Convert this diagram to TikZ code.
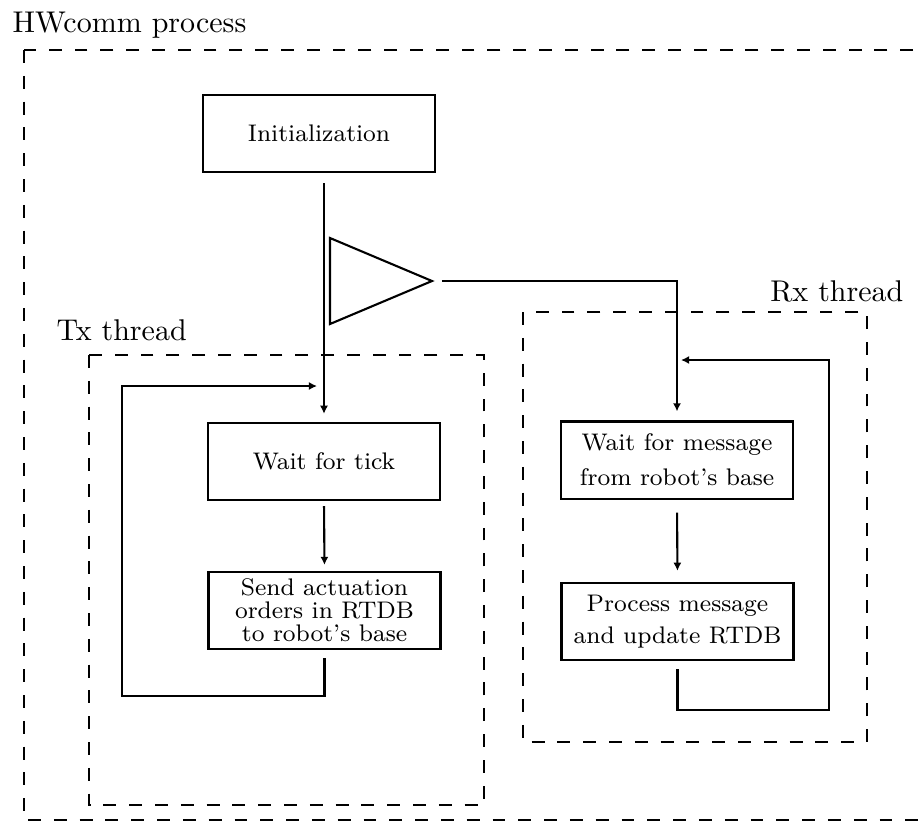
\documentclass[tikz,border=0pt]{standalone}
\usepackage{amsmath}
\usepackage{tikz}
\usetikzlibrary{arrows.meta}

\tikzset{
  stepbox/.style={shape=rectangle,draw=black,line width=0.7pt,minimum width=77.3pt,minimum height=25.7pt,inner ysep=1pt,align=center,font={\fontsize{8}{7.7}\selectfont}},
  threadbox/.style={draw=black,line width=0.7pt,dash pattern=on 4.3pt off 4.3pt},
  flow/.style={draw=black,line width=0.7pt},
  tag/.style={inner sep=0pt},
}

\begin{document}
\begin{tikzpicture}[x=0.3333pt,y=-0.3333pt,>={Latex[length=2.7pt,width=2.7pt]}]
    \clip (0,0) rectangle (920,822);
    \useasboundingbox (0,0) rectangle (920,822);

    \node[tag,anchor=base west] (hwlabel) at (12,32) {HWcomm process};
    \node[tag,anchor=base west] (txlabel) at (56,340) {Tx thread};
    \node[tag,anchor=base east] (rxlabel) at (904,301) {Rx thread};

    \draw[threadbox] (24,50) rectangle (950,820);
    \draw[threadbox] (89,355) rectangle (484,805);
    \draw[threadbox] (523,312) rectangle (867,742);

    \node[stepbox] (init) at (319,133.5) {Initialization};
    \node[stepbox] (tick) at (324,461.5) {Wait for tick};
    \node[stepbox] (send) at (324.5,610.5) {Send actuation\\orders in RTDB\\to robot's base};
    \node[stepbox] (waitmsg) at (677,460) {Wait for message\\[4pt]from robot's base};
    \node[stepbox] (procmsg) at (677.5,621.5) {Process message\\[3pt]and update RTDB};

    \coordinate (t1) at (330,238);
    \coordinate (t2) at (330,324);
    \coordinate (tip) at (432,281);
    \draw[flow,line join=miter] (t1) -- (tip) -- (t2) -- cycle;

    \coordinate (txcorner) at (122,696);
    \coordinate (txin) at (317,386);
    \coordinate (rxcorner) at (829,710);
    \coordinate (rxin) at (681,360);

    \draw[flow,->,shorten <=3.3pt,shorten >=2.7pt] (init.south -| tick.north) -- (tick.north);
    \draw[flow,->,shorten <=1.7pt,shorten >=2pt] (tick.south) -- (send.north);
    \draw[flow,->] ([yshift=-2.7pt]send.south) |- (txcorner) |- (txin);

    \draw[flow,->,shorten >=3pt] ([xshift=3.3pt]tip) -| (waitmsg.north);
    \draw[flow,->,shorten <=4.3pt,shorten >=3.7pt] (waitmsg.south) -- (procmsg.north);
    \draw[flow,->] ([yshift=-2.7pt]procmsg.south) |- (rxcorner) |- (rxin);
\end{tikzpicture}
\end{document}
